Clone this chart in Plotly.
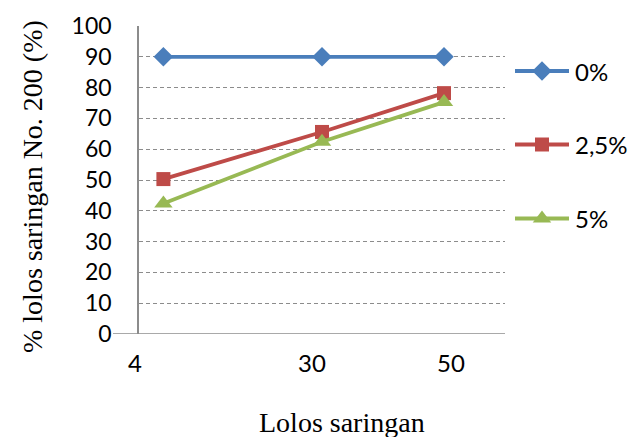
import plotly.graph_objects as go

x_vals = [4, 30, 50]
s0 = [90, 90, 90]
s25 = [50.3, 65.6, 78.2]
s5 = [42.4, 62.4, 75.3]
names = ["0%", "2,5%", "5%"]
x_tick_labels = ["4", "30", "50"]
x_tick_pos = [-0.66, 28.4, 51.1]
y_ticks = list(range(0, 101, 10))

sans = "Lato, Carlito, Calibri, sans-serif"
serif = "Liberation Serif, Times New Roman, serif"

W, H = 644, 437
L, R, T, B = 139, 505, 26, 334
PW, PH = R - L, B - T
paperW = W - L  # right margin 0


def px(xpix):
    return (xpix - L) / paperW


def py(ypix):
    return (B - ypix) / PH


colors = ["#4A7EBB", "#BE4B48", "#98B954"]
symbols = ["diamond", "square", "triangle-up"]
msizes = [15, 14, 16]
legend_y = [71, 144.5, 218.5]

fig = go.Figure()
for ys, nm, col, sym, sz in zip([s0, s25, s5], names, colors, symbols, msizes):
    fig.add_trace(go.Scatter(
        x=x_vals, y=ys, name=nm, mode="lines+markers",
        line=dict(color=col, width=3.8),
        marker=dict(symbol=sym, size=sz, color=col, opacity=1),
        cliponaxis=False, showlegend=False,
    ))

# legend samples drawn on a hidden pixel-coordinate axis at the right
LEG0 = 508
for nm, col, sym, sz, ly in zip(names, colors, symbols, msizes, legend_y):
    fig.add_trace(go.Scatter(
        x=[515, 542, 569], y=[ly, ly, ly], mode="lines+markers",
        line=dict(color=col, width=3.8),
        marker=dict(symbol=sym, size=[0, sz, 0], color=col, opacity=1, line=dict(width=0)),
        xaxis="x2", yaxis="y2", cliponaxis=False, showlegend=False, hoverinfo="skip",
    ))
    fig.add_annotation(text=nm, x=573, y=ly, xref="x2", yref="y2", xanchor="left",
                       yanchor="middle", showarrow=False, font=dict(size=24, family=sans))

fig.update_layout(
    width=W, height=H,
    margin=dict(l=L, r=0, t=T, b=H - B, autoexpand=False),
    paper_bgcolor="white", plot_bgcolor="white",
    font=dict(family=sans, size=23, color="black"),
    showlegend=False,
    xaxis=dict(domain=[0, px(R)], range=[0, 60], showgrid=False, zeroline=False,
               showticklabels=False, showline=False, ticks=""),
    yaxis=dict(range=[0, 100], tickvals=y_ticks, showgrid=True,
               gridcolor="#8C8C8C", griddash="4px,3px", gridwidth=1.3,
               zeroline=False, showline=True, linecolor="#8C8C8C", linewidth=1.5,
               ticks="", ticklabelstandoff=21,
               tickfont=dict(size=23, family=sans)),
    xaxis2=dict(domain=[px(LEG0), 1], range=[LEG0, W], anchor="y2", visible=False),
    yaxis2=dict(domain=[0, 1], range=[B, T], anchor="x2", visible=False),
)

# baseline at 0 extending left of the vertical axis
fig.add_shape(type="line", xref="paper", yref="y", x0=px(113), x1=px(R), y0=0, y1=0,
              line=dict(color="#8C8C8C", width=1.5))

for lbl, xp in zip(x_tick_labels, x_tick_pos):
    fig.add_annotation(text=lbl, x=px(L + xp / 60 * PW), xref="paper", y=py(362), yref="paper",
                       xanchor="center", yanchor="middle", showarrow=False,
                       font=dict(size=24, family=sans))

fig.add_annotation(text="Lolos saringan", x=px(342), xref="paper",
                   y=py(423), yref="paper", xanchor="center", yanchor="middle",
                   showarrow=False, font=dict(size=28, family=serif))

fig.add_annotation(text="% lolos saringan No. 200 (%)", textangle=-90,
                   x=px(32), xref="paper", y=py(187), yref="paper",
                   showarrow=False, xanchor="center", yanchor="middle",
                   font=dict(size=28, family=serif))

fig.write_html("out.html")
